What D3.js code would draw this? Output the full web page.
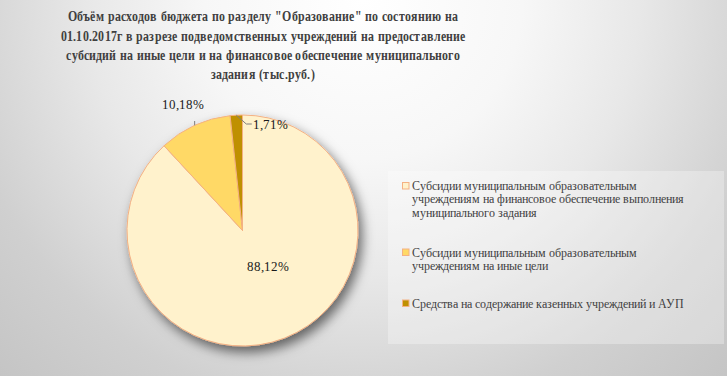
<!DOCTYPE html>
<html><head><meta charset="utf-8">
<script src="https://cdn.jsdelivr.net/npm/d3@7"></script>
<style>
@font-face{font-family:"RefSerif";src:local("Liberation Serif"),local("LiberationSerif"),local("Liberation Serif Regular"),local("Tinos"),local("Times New Roman");font-weight:normal}
@font-face{font-family:"RefSerif";src:local("Liberation Serif Bold"),local("LiberationSerif-Bold"),local("Tinos Bold"),local("Times New Roman Bold");font-weight:bold}
@font-face{font-family:"RefSerifR";src:local("Liberation Serif Regular"),local("LiberationSerif"),local("Liberation Serif"),local("Tinos"),local("Times New Roman")}
</style>
</head><body style="margin:0">
<script>
const titleLines = [
  'Объём расходов бюджета по разделу "Образование" по состоянию на',
  '01.10.2017г в разрезе подведомственных учреждений на предоставление',
  'субсидий на иные цели и на финансовое обеспечение муниципального',
  'задания (тыс.руб.)'
];
const categories = [
  ["Субсидии муниципальным образовательным", "учреждениям на финансовое обеспечение выполнения", "муниципального задания"],
  ["Субсидии муниципальным образовательным", "учреждениям на иные цели"],
  ["Средства на содержание казенных учреждений и АУП"]
];
const values = [88.12, 10.18, 1.71];
const labels = ["88,12%", "10,18%", "1,71%"];
const colors = ["#FFF2CC", "#FFD966", "#BF9000"];

const FONT = '"RefSerif","Liberation Serif",Tinos,"Times New Roman",Georgia';
const FONTR = '"RefSerifR","RefSerif","Liberation Serif",Tinos,"Times New Roman",Georgia,serif';
const W = 727, H = 376;
const svg = d3.select("body").append("svg").attr("width", W).attr("height", H).style("display","block");
const defs = svg.append("defs");
const bg = defs.append("radialGradient").attr("id","bg").attr("gradientUnits","userSpaceOnUse")
  .attr("cx",363).attr("cy",0).attr("r",530);
[[0,"#ffffff"],[0.3,"#f7f7f7"],[0.52,"#e8e8e8"],[0.78,"#d0d0d0"],[1,"#c4c4c4"]]
  .forEach(([o,c])=>bg.append("stop").attr("offset",o).attr("stop-color",c));
const sh = defs.append("filter").attr("id","sh").attr("x","-30%").attr("y","-30%").attr("width","160%").attr("height","160%");
sh.append("feDropShadow").attr("dx",4).attr("dy",6).attr("stdDeviation",6)
  .attr("flood-color","#000").attr("flood-opacity",0.55);

svg.append("rect").attr("width",W).attr("height",H).attr("fill","url(#bg)");

function sxFor(sel, target){
  const w = sel.node().getComputedTextLength();
  return w > 0 ? target / w : 1;
}

// title
const titleG = svg.append("g").attr("fill","#404040").attr("text-anchor","middle");
const tl = titleLines.map((t,i)=>titleG.append("text").attr("x",0).attr("y",21.5+i*19.3)
  .style("font-family",FONT).style("font-weight","bold").attr("font-size",15).text(t));
const tsx = Math.min(1.3, sxFor(tl[1], 400));
titleG.attr("transform",`translate(263,0) scale(${tsx},1)`);

// pie
const cx = 242.5, cy = 230.5, R = 115.5;
const pie = d3.pie().sort(null).value(d=>d)(values);
const arc = d3.arc().innerRadius(0).outerRadius(R);
const g = svg.append("g").attr("transform",`translate(${cx},${cy})`);
g.append("g").attr("filter","url(#sh)").selectAll("path").data(pie).join("path")
  .attr("d",arc).attr("fill",(d,i)=>colors[i]).attr("stroke","#F4B183").attr("stroke-width",1);

// data labels (fixed size, no stretching)
function label(x, y, anchor, txt){
  return g.append("text").attr("x",x).attr("y",y).style("font-family",FONTR).style("font-weight","normal")
    .attr("text-anchor",anchor).attr("font-size",13).attr("fill","#1a1a1a").text(txt);
}
const inArc = d3.arc().innerRadius(44).outerRadius(44);
const c0 = inArc.centroid(pie[0]);
label(c0[0]+9, c0[1], "middle", labels[0]);

const edge = d3.arc().innerRadius(R).outerRadius(R);
const e1 = edge.centroid(pie[1]);
g.append("polyline").attr("points",`${e1[0]},${e1[1]} ${e1[0]},${-R+6}`)
  .attr("fill","none").attr("stroke","#7f7f7f").attr("stroke-width",1);
label(e1[0]-12, -R-6, "middle", labels[1]);
const e2 = edge.centroid(pie[2]);
g.append("polyline").attr("points",`${e2[0]},${e2[1]} ${e2[0]+10},${-R+9} ${e2[0]+15.5},${-R+9}`)
  .attr("fill","none").attr("stroke","#7f7f7f").attr("stroke-width",1);
label(e2[0]+16.5, -R+13.5, "start", labels[2]);

// legend (fixed 12px, no stretching)
svg.append("rect").attr("x",388).attr("y",171).attr("width",336).attr("height",173)
  .attr("fill","#ffffff").attr("fill-opacity",0.3);
const itemY = [190, 256.5, 307.5];
const leg = svg.append("g");
categories.forEach((lines,i)=>{
  leg.append("rect").attr("x",402.5).attr("y",itemY[i]-7.5).attr("width",6.5).attr("height",6.5)
    .attr("fill",colors[i]).attr("stroke","#F4B183").attr("stroke-width",1);
  lines.forEach((l,j)=>leg.append("text").style("font-family",FONTR).style("font-weight","normal")
    .attr("font-size",12).attr("fill","#404040").attr("x",411.5).attr("y",itemY[i]+j*13.4).text(l));
});
</script>
</body></html>
